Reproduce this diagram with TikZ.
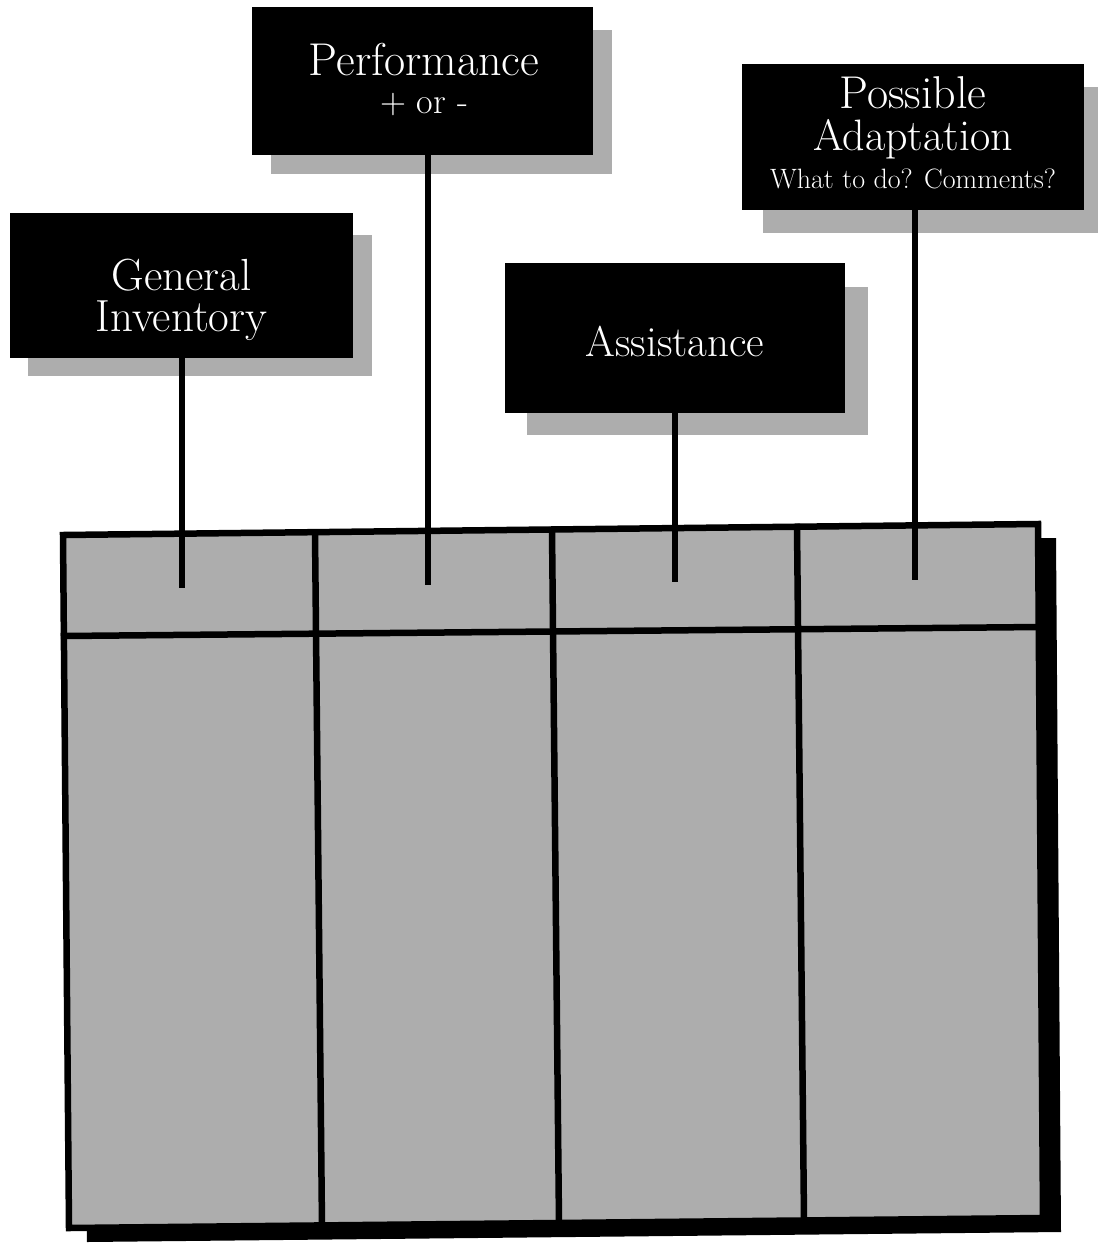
\documentclass[tikz,border=0pt]{standalone}
\usepackage{fontspec}
\usetikzlibrary{calc}
\begin{document}
\begin{tikzpicture}[x=1pt,y=-1pt,
  tag/.style={fill=black, draw=none, inner sep=0pt},
  tagshadow/.style={fill=black!32, draw=none},
  tagtext/.style={text=white, anchor=base, inner sep=0pt},
  post/.style={line width=6pt},
  gridline/.style={line width=6.5pt, line join=miter, line cap=rect},
  tablefill/.style={fill=black!32}]
\useasboundingbox (0,0) rectangle (1098,1247);
\fill[white] (0,0) rectangle (1098,1247);

% table
\coordinate (tl) at (63,535);
\coordinate (tr) at (1038,524);
\coordinate (br) at (1043,1218);
\coordinate (bl) at (69,1228);
\fill[black] ($(tl)+(18,14)$) -- ($(tr)+(18,14)$) -- ($(br)+(18,14)$) -- ($(bl)+(18,14)$) -- cycle;
\fill[tablefill] (tl) -- (tr) -- (br) -- (bl) -- cycle;
\draw[gridline] (64,636) -- (1040,627);
\draw[gridline] (315,533) -- (322,1227);
\draw[gridline] (552,530) -- (559,1224);
\draw[gridline] (797,527) -- (804,1220);
\draw[gridline] (tl) -- (tr) -- (br) -- (bl) -- cycle;

% tag shadows
\fill[tagshadow] (28,235) rectangle (372,376);
\fill[tagshadow] (271,30) rectangle (612,174);
\fill[tagshadow] (527,287) rectangle (868,435);
\fill[tagshadow] (763,87) rectangle (1098,233);

% tags
\node[tag, minimum width=343pt, minimum height=145pt] (gi) at (181.5,285.5) {};
\node[tag, minimum width=341pt, minimum height=148pt] (perf) at (422.5,81) {};
\node[tag, minimum width=340pt, minimum height=150pt] (assist) at (675,338) {};
\node[tag, minimum width=342pt, minimum height=146pt] (adapt) at (913,137) {};

% connector ends
\coordinate (c1) at (182,588);
\coordinate (c2) at (428,585);
\coordinate (c3) at (675,582);
\coordinate (c4) at (915,580);
\draw[post] (c1 |- gi.south) -- (c1);
\draw[post] (c2 |- perf.south) -- (c2);
\draw[post] (c3 |- assist.south) -- (c3);
\draw[post] (c4 |- adapt.south) -- (c4);

% texts
\node[tagtext, font=\fontsize{45}{45}\selectfont] (gi1) at (181.5,290) {General};
\node[tagtext, font=\fontsize{45}{45}\selectfont] (gi2) at (181.5,331) {Inventory};
\node[tagtext, font=\fontsize{46}{46}\selectfont] (perf1) at (424,75) {Performance};
\node[tagtext, font=\fontsize{36}{36}\selectfont] (perf2) at (424,113) {+ or -};
\node[tagtext, font=\fontsize{46}{46}\selectfont] (adapt1) at (913,108) {Possible};
\node[tagtext, font=\fontsize{44}{44}\selectfont] (adapt2) at (913,150) {Adaptation};
\node[tagtext, font=\fontsize{28}{28}\selectfont] (adapt3) at (913,188) {What to do? Comments?};
\node[tagtext, font=\fontsize{43}{43}\selectfont] (assist1) at (675,356) {Assistance};
\end{tikzpicture}
\end{document}
